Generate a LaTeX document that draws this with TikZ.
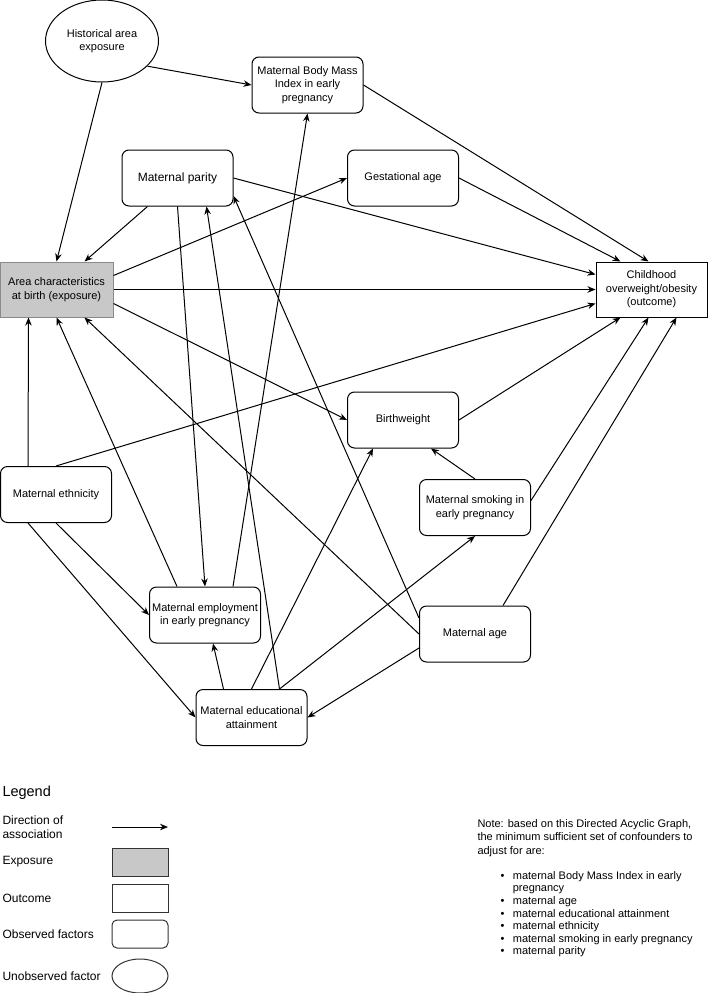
\documentclass[tikz,border=0pt]{standalone}
\usepackage{fontspec}
\setmainfont{Liberation Sans}
\usetikzlibrary{arrows.meta,shapes.geometric}
\definecolor{expfill}{HTML}{C8C8C8}
\definecolor{expline}{HTML}{8A8A8A}
\tikzset{
  factor/.style={draw, rounded corners=7pt, minimum width=111pt, minimum height=56pt,
    inner sep=1pt, align=center, font=\fontsize{11}{13.5}\selectfont},
  outcome/.style={factor, sharp corners},
  exposure/.style={factor, sharp corners, fill=expfill, draw=expline},
  latent/.style={draw, ellipse, minimum width=113pt, minimum height=82pt, inner sep=1pt,
    align=center, font=\fontsize{11}{13.5}\selectfont},
  legtext/.style={anchor=west, inner sep=0pt, align=left, font=\fontsize{12}{13.5}\selectfont},
  legbox/.style={draw, minimum width=56pt, minimum height=28pt, inner sep=0pt},
}
\begin{document}
\begin{tikzpicture}[x=1pt,y=-1pt,line width=1pt,>={Stealth[length=8pt,width=6.5pt]}]
        \useasboundingbox (0,0) rectangle (708,993);
        % Unobserved factor
        \node[latent] (hist) at (102,41) {Historical area\\exposure};
        % Observed factors
        \node[factor] (bmi) at (307.5,85) {Maternal Body Mass\\Index in early\\pregnancy};
        \node[factor, font=\fontsize{12}{13.5}\selectfont] (parity) at (177.5,178) {Maternal parity};
        \node[factor] (gest) at (403,178) {Gestational age};
        \node[factor] (birthw) at (403,420) {Birthweight};
        \node[factor] (smoke) at (475,507.5) {Maternal smoking in\\early pregnancy};
        \node[factor] (ethn) at (56,494.5) {Maternal ethnicity};
        \node[factor] (employ) at (205,615) {Maternal employment\\in early pregnancy};
        \node[factor] (educ) at (251.5,717.5) {Maternal educational\\attainment};
        \node[factor] (age) at (475,634) {Maternal age};
        % Exposure and outcome
        \node[exposure, minimum width=113pt, minimum height=55pt] (area) at (56.5,289.5) {Area characteristics\\at birth (exposure)};
        \node[outcome, minimum height=55pt] (child) at (651.5,289.5) {Childhood\\overweight/obesity\\(outcome)};
        % Arrows from historical exposure
        \draw[->] (hist.-29) -- (bmi.west);
        \draw[->] (hist.south) -- (area.north);
        % Arrows into the outcome
        \draw[->] (bmi.east) -- ([xshift=-3pt]child.north);
        \draw[->] (gest.east) -- ([xshift=-31pt]child.north);
        \draw[->] (parity.east) -- ([yshift=15pt]child.west);
        \draw[->] (area.east) -- (child.west);
        \draw[->] (ethn.north) -- ([yshift=-14pt]child.west);
        \draw[->] (birthw.east) -- ([xshift=-31pt]child.south);
        \draw[->] ([yshift=7pt]smoke.east) -- ([xshift=-3pt]child.south);
        \draw[->] ([xshift=28pt]age.north) -- ([xshift=25pt]child.south);
        % Arrows into the exposure
        \draw[->] ([xshift=-30pt]parity.south) -- ([xshift=28pt]area.north);
        \draw[->] ([xshift=-28pt]ethn.north) -- ([xshift=-28pt]area.south);
        \draw[->] ([xshift=-28pt]employ.north) -- (area.south);
        \draw[->] (age.west) -- ([xshift=28pt]area.south);
        % Arrows out of the exposure
        \draw[->] ([yshift=14pt]area.east) -- (gest.west);
        \draw[->] ([yshift=-14pt]area.east) -- (birthw.west);
        % Other factors
        \draw[->] ([yshift=16pt]age.west) -- ([yshift=-18pt]parity.east);
        \draw[->] ([yshift=-14pt]age.west) -- (educ.east);
        \draw[->] (parity.south) -- (employ.north);
        \draw[->] ([xshift=28pt]employ.north) -- (bmi.south);
        \draw[->] ([xshift=28pt]educ.north) -- ([xshift=29pt]parity.south);
        \draw[->] ([xshift=-28pt]educ.north) -- ([xshift=8pt]employ.south);
        \draw[->] (educ.north) -- ([xshift=-30pt]birthw.south);
        \draw[->] ([xshift=28pt]educ.north) -- (smoke.south);
        \draw[->] (ethn.south) -- (employ.west);
        \draw[->] ([xshift=-28pt]ethn.south) -- (educ.west);
        \draw[->] (smoke.north) -- ([xshift=28pt]birthw.south);
        % Legend
        \node[legtext, font=\fontsize{14.5}{16}\selectfont] (legtitle) at (2,793) {Legend};
        \node[legtext] (legdir) at (2,827) {Direction of\\association};
        \coordinate (legfrom) at (112,827);
        \coordinate (legto) at (168,827);
        \draw[->] (legfrom) -- (legto);
        \node[legtext] (legexp) at (2,862) {Exposure};
        \node[legbox, fill=expfill, draw=black!80] (legexpbox) at (140,862) {};
        \node[legtext] (legout) at (2,898.5) {Outcome};
        \node[legbox, draw=black!80] (legoutbox) at (140,898.5) {};
        \node[legtext] (legobs) at (2,934) {Observed factors};
        \node[legbox, draw=black!80, rounded corners=5pt] (legobsbox) at (140,934) {};
        \node[legtext] (leglat) at (2,976) {Unobserved factor};
        \node[legbox, ellipse, draw=black!80, minimum height=34pt] (leglatbox) at (140,976) {};
        % Note
        \node[anchor=north west, inner sep=0pt, align=left, font=\fontsize{11}{13.3}\selectfont] (note) at (477,819)
          {Note: based on this Directed Acyclic Graph,\\the minimum sufficient set of confounders to\\adjust for are:};
        \node[anchor=north west, inner sep=0pt, font=\fontsize{11}{12.6}\selectfont] (notelist) at (500,870)
          {\begin{tabular}{@{}l@{\hspace{8.5pt}}l@{}}
            \textbullet & maternal Body Mass Index in early\\
                        & pregnancy\\
            \textbullet & maternal age\\
            \textbullet & maternal educational attainment\\
            \textbullet & maternal ethnicity\\
            \textbullet & maternal smoking in early pregnancy\\
            \textbullet & maternal parity
          \end{tabular}};
    \end{tikzpicture}
\end{document}
